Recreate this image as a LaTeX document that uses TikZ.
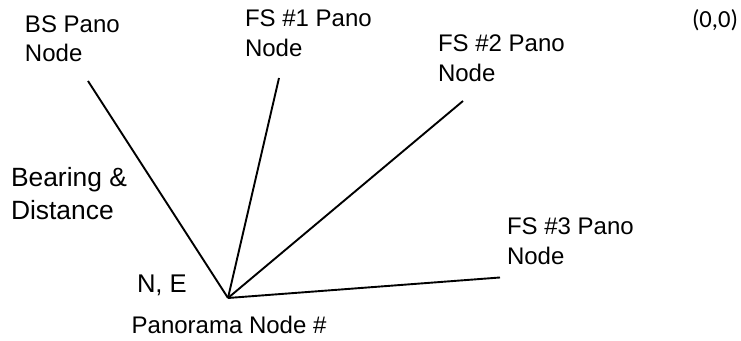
\documentclass[tikz,border=0pt]{standalone}
\usepackage{fontspec}
\setmainfont{Liberation Sans}
\newfontfamily\calfont{Carlito}
\begin{document}
\begin{tikzpicture}[x=0.5pt,y=-0.5pt,
  lbl/.style={anchor=base west,inner sep=0pt,outer sep=0pt,font=\fontsize{12}{15}\selectfont},
  ray/.style={line width=0.95pt,black,line join=miter}]
\useasboundingbox (0,0) rectangle (741,341);
% labels
\node[lbl] (bs) at (25,33) {\vtop{\baselineskip=14.2pt\hbox{BS Pano}\hbox{Node}}};
\node[lbl] (fs1) at (245,26.7) {\vtop{\baselineskip=15pt\hbox{FS \#1 Pano}\hbox{Node}}};
\node[lbl] (fs2) at (438,51.7) {\vtop{\baselineskip=15pt\hbox{FS \#2 Pano}\hbox{Node}}};
\node[lbl] (fs3) at (507,235) {\vtop{\baselineskip=15pt\hbox{FS \#3 Pano}\hbox{Node}}};
\node[lbl,font=\fontsize{13.2}{16.3}\selectfont] (bd) at (11,186.7) {\vtop{\baselineskip=16.3pt\hbox{Bearing \&}\hbox{Distance}}};
\node[lbl,font=\fontsize{12.8}{15}\selectfont] (ne) at (137,292.7) {N, E};
\node[lbl] (pn) at (131.7,333.3) {Panorama Node \#};
\node[lbl,font=\calfont\fontsize{12.3}{15}\selectfont] (origin) at (692,28) {(0,0)};
% rays
\coordinate (c) at (228,298);
\coordinate (bsend) at (88,81);
\coordinate (fs1end) at (279,78);
\coordinate (fs2end) at (463,101);
\coordinate (fs3end) at (500,277.5);
\draw[ray] (c) -- (bsend);
\draw[ray] (c) -- (fs1end);
\draw[ray] (c) -- (fs2end);
\draw[ray] (c) -- (fs3end);
\end{tikzpicture}
\end{document}
